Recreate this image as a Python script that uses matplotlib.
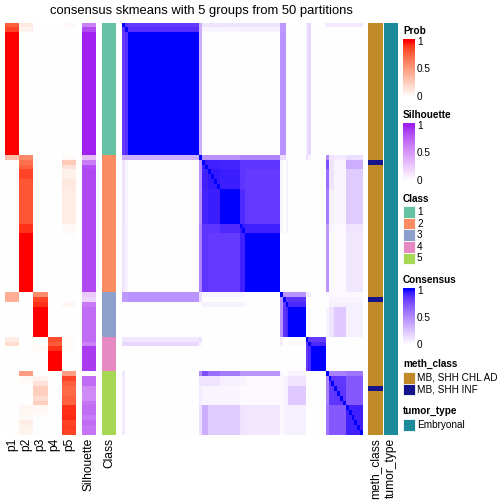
import numpy as np
import matplotlib
matplotlib.use("Agg")
import matplotlib.pyplot as plt
from matplotlib.colors import ListedColormap
from matplotlib.patches import Rectangle

plt.rcParams['font.family'] = ['Liberation Sans', 'DejaVu Sans']

# ---------------- data (84 samples, top to bottom) ----------------
classes = [1, 2, 3, 4, 5]
class_sizes = [27, 28, 9, 7, 13]
class_colors = ['#66C2A5', '#FC8D62', '#8DA0CB', '#E78AC3', '#A6D854']

p1 = [0.78, 0.88] + [1.0] * 25 + [0.33] + [0.0] * 27 + [0.42, 0.42] + [0.0] * 7 \
    + [0.10, 0.18] + [0.0] * 18
p2 = [0.12, 0.06] + [0.0] * 25 + [0.60, 0.70, 0.77, 0.88, 0.88, 0.82, 0.82] + [0.82] * 7 \
    + [0.93, 0.93] + [1.0] * 12 + [0.0] * 16 \
    + [0.50, 0.03, 0.02, 0, 0, 0, 0, 0.04, 0.05, 0.03, 0.10, 0.07, 0.07]
p3 = [0.0] * 55 + [0.58, 0.88, 0.93] + [1.0] * 6 + [0.0, 0.0, 0.02, 0, 0, 0, 0] \
    + [0.0, 0.06, 0.15, 0.25, 0.25, 0.18, 0.25, 0.04, 0.03, 0, 0, 0, 0]
p4 = [0.0] * 64 + [0.85, 0.80, 0.93, 1.0, 1.0, 1.0, 1.0] + [0.0] * 13
p5 = [0.03] + [0.0] * 26 + [0.03, 0.28, 0.15, 0.08, 0.08, 0.12, 0.12] + [0.10] * 7 \
    + [0.03, 0.03] + [0.0] * 12 + [0, 0, 0.05] + [0.0] * 6 + [0.02, 0.02, 0.02, 0, 0, 0, 0] \
    + [0.50, 0.88, 0.78, 0.74, 0.74, 0.78, 0.76, 0.93, 0.94, 0.95, 0.88, 0.90, 0.88]

silhouette = [0.62, 0.86] + [1.0] * 25 + [0.33, 0.64, 0.84] + [0.87] * 25 \
    + [0.27, 0.22, 0.66] + [0.72] * 6 + [0.72, 0.62] + [0.92] * 5 \
    + [0.0, 0.72, 0.72, 0.58, 0.58, 0.58, 0.68, 0.72, 0.72, 0.66, 0.73, 0.68, 0.68]

meth_levels = ['MB, SHH CHL AD', 'MB, SHH INF']
meth_colors = ['#C08A28', '#16148C']
meth_class = ['MB, SHH CHL AD'] * 28 + ['MB, SHH INF'] + ['MB, SHH CHL AD'] * 27 \
    + ['MB, SHH INF'] + ['MB, SHH CHL AD'] * 17 + ['MB, SHH INF'] + ['MB, SHH CHL AD'] * 9
tumor_levels = ['Embryonal']
tumor_colors = ['#1B8A9B']
tumor_type = ['Embryonal'] * 84

# consensus matrix: samples grouped into runs that share one profile
seg_sizes = [1, 1, 25, 1, 2, 4, 7, 2, 12, 1, 1, 1, 6, 1, 1, 5, 1, 2, 4, 6]
seg_pairs = {
    (0, 1): .86, (0, 2): .84, (0, 3): .35, (0, 4): .12, (0, 5): .12, (0, 6): .12, (0, 7): .12,
    (0, 8): .12, (0, 9): .44, (0, 10): .44, (0, 13): .10, (0, 14): .17, (0, 16): .10,
    (0, 17): .08, (0, 18): .08, (0, 19): .08,
    (1, 2): .88, (1, 3): .35, (1, 4): .04, (1, 5): .04, (1, 6): .05, (1, 7): .06, (1, 8): .06,
    (1, 9): .44, (1, 10): .44, (1, 13): .10, (1, 14): .17,
    (2, 2): 1.0, (2, 3): .35, (2, 9): .46, (2, 10): .46, (2, 13): .10, (2, 14): .17,
    (3, 4): .47, (3, 5): .47, (3, 6): .47, (3, 7): .53, (3, 8): .53, (3, 9): .14, (3, 10): .14,
    (3, 13): .14, (3, 14): .05, (3, 16): .50, (3, 17): .12, (3, 18): .08, (3, 19): .14,
    (4, 4): .94, (4, 5): .93, (4, 6): .92, (4, 7): .86, (4, 8): .86, (4, 9): .04, (4, 11): .06,
    (4, 16): .76, (4, 17): .12, (4, 18): .04, (4, 19): .35,
    (5, 5): .95, (5, 6): .94, (5, 7): .86, (5, 8): .84, (5, 9): .04, (5, 11): .06,
    (5, 16): .63, (5, 17): .12, (5, 18): .04, (5, 19): .22,
    (6, 6): 1.0, (6, 7): .90, (6, 8): .84, (6, 9): .04, (6, 11): .06,
    (6, 16): .57, (6, 17): .07, (6, 18): .04, (6, 19): .22,
    (7, 7): .95, (7, 8): .93, (7, 9): .04, (7, 11): .05, (7, 16): .45, (7, 17): .05,
    (7, 18): .02, (7, 19): .12,
    (8, 8): 1.0, (8, 16): .45, (8, 17): .03, (8, 18): .02, (8, 19): .10,
    (9, 10): .46, (9, 11): .46, (9, 12): .46, (9, 13): .08, (9, 14): .08, (9, 16): .04,
    (9, 17): .03, (9, 18): .03, (9, 19): .03,
    (10, 11): .85, (10, 12): .87, (10, 17): .04, (10, 18): .04, (10, 19): .04,
    (11, 12): .91, (11, 17): .07, (11, 18): .07, (11, 19): .07,
    (12, 12): 1.0, (12, 14): .03, (12, 16): .05, (12, 17): .12, (12, 18): .23, (12, 19): .07,
    (13, 14): .86, (13, 15): .84, (14, 15): .91, (15, 15): 1.0,
    (16, 17): .55, (16, 18): .55, (16, 19): .60,
    (17, 17): .86, (17, 18): .85, (17, 19): .72,
    (18, 18): .86, (18, 19): .72, (19, 19): .93,
}

prob_names = ['p1', 'p2', 'p3', 'p4', 'p5']
title = 'consensus skmeans with 5 groups from 50 partitions'


# ---------------- colour ramps (ComplexHeatmap interpolates in LAB) ----------------
def _to_lab(rgb):
    c = np.where(rgb <= 0.04045, rgb / 12.92, ((rgb + 0.055) / 1.055) ** 2.4)
    m = np.array([[0.4124, 0.3576, 0.1805], [0.2126, 0.7152, 0.0722], [0.0193, 0.1192, 0.9505]])
    xyz = m @ c / np.array([0.95047, 1.0, 1.08883])
    d = 6 / 29
    f = np.where(xyz > d ** 3, np.cbrt(xyz), xyz / (3 * d * d) + 4 / 29)
    return np.array([116 * f[1] - 16, 500 * (f[0] - f[1]), 200 * (f[1] - f[2])])


def _from_lab(lab):
    L, a, b = lab
    fy = (L + 16) / 116
    f = np.array([fy + a / 500, fy, fy - b / 200])
    d = 6 / 29
    xyz = np.where(f > d, f ** 3, 3 * d * d * (f - 4 / 29)) * np.array([0.95047, 1.0, 1.08883])[:, None]
    m = np.array([[3.2406, -1.5372, -0.4986], [-0.9689, 1.8758, 0.0415], [0.0557, -0.2040, 1.0570]])
    c = np.clip(m @ xyz, 0, 1)
    return np.clip(np.where(c <= 0.0031308, 12.92 * c, 1.055 * c ** (1 / 2.4) - 0.055), 0, 1)


def lab_ramp(lo, hi, n=256):
    l0 = _to_lab(np.array(matplotlib.colors.to_rgb(lo)))
    l1 = _to_lab(np.array(matplotlib.colors.to_rgb(hi)))
    t = np.linspace(0, 1, n)
    lab = l0[:, None] * (1 - t) + l1[:, None] * t
    return ListedColormap(_from_lab(lab).T)


prob_cmap = lab_ramp('white', 'red')
sil_cmap = lab_ramp('white', '#A020F0')
cons_cmap = lab_ramp('white', 'blue')

# ---------------- build matrices ----------------
n_seg = len(seg_sizes)
seg_mat = np.zeros((n_seg, n_seg))
for (i, j), v in seg_pairs.items():
    seg_mat[i, j] = v
    seg_mat[j, i] = v
seg_id = np.repeat(np.arange(n_seg), seg_sizes)
consensus = seg_mat[seg_id][:, seg_id]
np.fill_diagonal(consensus, 1.0)

prob = np.column_stack([p1, p2, p3, p4, p5])
sil = np.array(silhouette)[:, None]
cls = np.repeat(np.arange(len(classes)), class_sizes)[:, None]
meth = np.array([meth_levels.index(m) for m in meth_class])[:, None]
tumor = np.array([tumor_levels.index(t) for t in tumor_type])[:, None]

# ---------------- layout in pixels ----------------
W = H = 504
fig = plt.figure(figsize=(7, 7), dpi=72)
top, bottom = 22.7, 435


def px_axes(x0, x1, y0=top, y1=bottom):
    ax = fig.add_axes([x0 / W, 1 - y1 / H, (x1 - x0) / W, (y1 - y0) / H])
    ax.set_axis_off()
    return ax


def strip(x0, x1, data, cmap, vmin=0, vmax=1):
    ax = px_axes(x0, x1)
    ax.imshow(data, aspect='auto', interpolation='nearest', cmap=cmap, vmin=vmin, vmax=vmax)
    return ax


strip(5, 76, prob, prob_cmap)
strip(82, 96, sil, sil_cmap)
strip(102, 116, cls, ListedColormap(class_colors), 0, len(classes) - 1)
strip(122, 363, consensus, cons_cmap)
strip(368, 383, meth, ListedColormap(meth_colors), 0, len(meth_levels) - 1)
strip(384, 398, tumor, ListedColormap(tumor_colors + tumor_colors), 0, 1)

# column labels
label_pos = [(5 + 14.2 * (i + 0.5), n) for i, n in enumerate(prob_names)]
label_pos += [(89, 'Silhouette'), (109, 'Class'), (375.5, 'meth_class'), (391, 'tumor_type')]
for x, name in label_pos:
    fig.text(x / W, 1 - 438 / H, name, rotation=90, ha='center', va='top', fontsize=12)

fig.text(201 / W, 1 - 14 / H, title, ha='center', va='baseline', fontsize=13)

# ---------------- legends ----------------
ov = fig.add_axes([0, 0, 1, 1])
ov.set_xlim(0, W)
ov.set_ylim(H, 0)
ov.set_axis_off()

LX, LW = 403, 12
TXT = 417


def colorbar_legend(name, title_y, bar_top, cmap):
    ov.text(LX, title_y, name, fontsize=10, fontweight='bold', va='center', ha='left')
    bar_h = 57.4
    bar_bot = bar_top + bar_h
    span = bar_h - 2.5
    grad = np.linspace(bar_h / span, 0, 200)[:, None]
    ax = fig.add_axes([LX / W, 1 - bar_bot / H, LW / W, bar_h / H])
    ax.set_axis_off()
    ax.imshow(grad, aspect='auto', cmap=cmap, vmin=0, vmax=1, interpolation='bilinear')
    for v, lab in [(1, '1'), (0.5, '0.5'), (0, '0')]:
        y = bar_bot - v * span
        if v > 0:
            ov.plot([LX, LX + 2.5], [y, y], color='white', lw=1)
            ov.plot([LX + LW - 2.5, LX + LW], [y, y], color='white', lw=1)
        ov.text(TXT, y, lab, fontsize=10, va='center', ha='left')


def discrete_legend(name, title_y, first_top, labels, colors):
    ov.text(LX, title_y, name, fontsize=10, fontweight='bold', va='center', ha='left')
    step = 11.6
    for k, (lab, col) in enumerate(zip(labels, colors)):
        y0 = first_top + k * step
        ov.add_patch(Rectangle((LX, y0), LW, step, facecolor=col, edgecolor='white', lw=0.8))
        ov.text(TXT, y0 + step / 2, lab, fontsize=10, va='center', ha='left')


colorbar_legend('Prob', 31, 39.3, prob_cmap)
colorbar_legend('Silhouette', 115, 123.3, sil_cmap)
discrete_legend('Class', 199, 206.2, [str(c) for c in classes], class_colors)
colorbar_legend('Consensus', 280, 288, cons_cmap)
discrete_legend('meth_class', 364, 372, meth_levels, meth_colors)
discrete_legend('tumor_type', 411.5, 419.3, tumor_levels, tumor_colors)

fig.savefig('out.png', dpi=72)
